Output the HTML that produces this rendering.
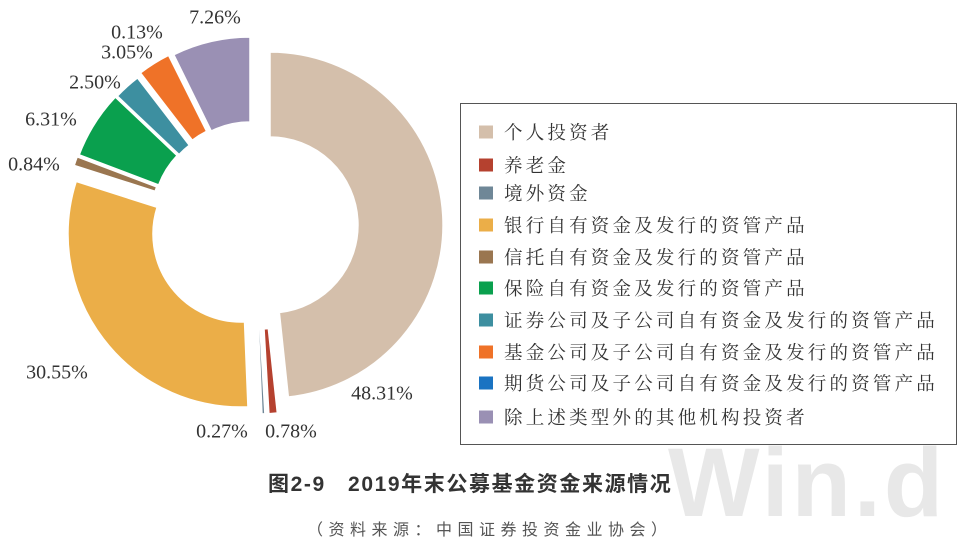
<!DOCTYPE html>
<html><head><meta charset="utf-8"><style>
body{margin:0;width:960px;height:542px;background:#fff;overflow:hidden;position:relative;font-family:"Liberation Serif","Noto Serif CJK SC",serif}
.lab{position:absolute;font-size:20px;color:#333;transform:translate(-50%,-50%);white-space:nowrap}
#leg{position:absolute;left:460px;top:103px;width:497px;height:342px;border:1.5px solid #555;box-sizing:border-box}
.row{position:absolute;left:504px;font-size:18.5px;letter-spacing:3.2px;color:#333;font-family:"Noto Serif CJK SC",serif;transform:translateY(-50%);white-space:nowrap}
.sw{position:absolute;left:479px;width:14px;height:13px;transform:translateY(-50%)}
</style></head><body>
<div style="position:absolute;left:668px;top:434px;font-family:'Liberation Sans',sans-serif;font-weight:bold;font-size:97px;color:#e8e8e8;letter-spacing:3px;line-height:1">Win.d</div>
<svg id="s" width="960" height="542" style="position:absolute;left:0;top:0"></svg>
<div class="lab" style="left:215px;top:18px">7.26%</div>
<div class="lab" style="left:137px;top:33px">0.13%</div>
<div class="lab" style="left:127px;top:53px">3.05%</div>
<div class="lab" style="left:95px;top:83px">2.50%</div>
<div class="lab" style="left:51px;top:120px">6.31%</div>
<div class="lab" style="left:34px;top:165px">0.84%</div>
<div class="lab" style="left:57px;top:373px">30.55%</div>
<div class="lab" style="left:222px;top:432px">0.27%</div>
<div class="lab" style="left:291px;top:432px">0.78%</div>
<div class="lab" style="left:382px;top:394px">48.31%</div>
<div id="leg"></div>
<div style="position:absolute;left:268px;top:483px;transform:translateY(-50%);font-family:'Liberation Sans','Noto Sans CJK SC',sans-serif;font-weight:bold;font-size:21px;letter-spacing:1.6px;color:#333;white-space:nowrap">图2-9&nbsp;&nbsp; 2019年末公募基金资金来源情况</div>
<div style="position:absolute;left:307px;top:528px;transform:translateY(-50%);font-family:'Noto Sans CJK SC',sans-serif;font-size:16px;letter-spacing:5.5px;color:#555;white-space:nowrap">（资料来源：中国证券投资金业协会）</div>
<script>
var d=[[48.31,'#d4bfab',270,225],[0.78,'#b5412f',259,241],[0.27,'#6f8797',255,241],[30.55,'#ebae48',241,234],[0.84,'#9a7650',239,218],[6.31,'#0aa04e',241,216],[2.50,'#3d8fa0',243,215],[3.05,'#ef7228',246,210],[0.13,'#1a73c2',248,210],[7.26,'#9a90b4',250,210]];
var names=['个人投资者','养老金','境外资金','银行自有资金及发行的资管产品','信托自有资金及发行的资管产品','保险自有资金及发行的资管产品','证券公司及子公司自有资金及发行的资管产品','基金公司及子公司自有资金及发行的资管产品','期货公司及子公司自有资金及发行的资管产品','除上述类型外的其他机构投资者'];
var R=173,r=88,a=0,h='';
function p(cx,cy,rad,t){return [(cx+rad*Math.sin(t)).toFixed(2),(cy-rad*Math.cos(t)).toFixed(2)].join(',');}
d.forEach(function(s){var a0=a/100*2*Math.PI;a+=s[0];var a1=a/100*2*Math.PI;var lg=(a1-a0)>Math.PI?1:0;var cx=s[2],cy=s[3];
h+='<path d="M'+p(cx,cy,R,a0)+' A'+R+','+R+' 0 '+lg+' 1 '+p(cx,cy,R,a1)+' L'+p(cx,cy,r,a1)+' A'+r+','+r+' 0 '+lg+' 0 '+p(cx,cy,r,a0)+' Z" fill="'+s[1]+'" stroke="#fff" stroke-width="1.5"/>';});
document.getElementById('s').innerHTML=h;
var ys=[132,165,193,225,257,288,320,352,383,417],o='';
ys.forEach(function(y,i){o+='<div class="sw" style="top:'+y+'px;background:'+d[i][1]+'"></div><div class="row" style="top:'+y+'px">'+names[i]+'</div>';});
document.body.insertAdjacentHTML('beforeend',o);
</script>
</body></html>
